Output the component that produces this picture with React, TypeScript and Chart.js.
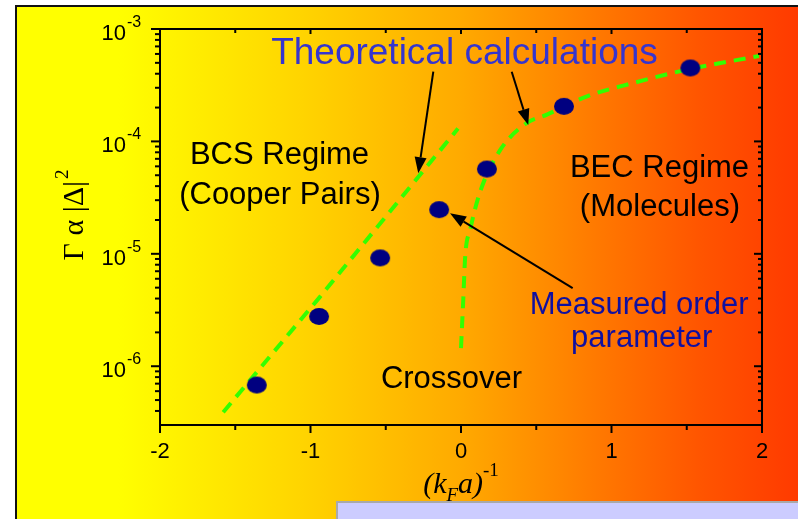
import React, { useEffect, useRef } from 'react';
import { Chart, registerables } from 'chart.js';

Chart.register(...registerables);

// ---- data ----
const bcsX = [-1.58, -0.94, -0.02];
const bcsY = [3.9e-7, 4.1e-6, 1.3e-4];

const becX = [0.0, 0.015, 0.028, 0.061, 0.128, 0.261, 0.438, 0.571, 0.837, 1.145, 1.502, 1.98];
const becY = [1.45e-6, 3.9e-6, 9.5e-6, 1.64e-5, 3.59e-5, 8.4e-5, 1.46e-4, 1.73e-4, 2.52e-4, 3.31e-4, 4.35e-4, 5.75e-4];

const measuredX = [-1.357, -0.943, -0.537, -0.145, 0.172, 0.684, 1.524];
const measuredY = [6.8e-7, 2.77e-6, 9.2e-6, 2.47e-5, 5.68e-5, 2.05e-4, 4.5e-4];

const xTickValues = [-2, -1, 0, 1, 2];
const xTickLabels = ['-2', '-1', '0', '1', '2'];
const xMinorValues = [-1.5, -0.5, 0.5, 1.5];
const yTickExponents = [-6, -5, -4, -3];

const X_MIN = -2;
const X_MAX = 2;
const Y_MIN = 3e-7;
const Y_MAX = 1e-3;

// annotation texts (anchor in data coordinates: x value, log10 y value)
const textNotes = [
  { text: 'Theoretical calculations', x: 0.023, ly: -3.314, color: '#3535cf', size: 37 },
  { text: 'BCS Regime', x: -1.206, ly: -4.205, color: '#000000', size: 31 },
  { text: '(Cooper Pairs)', x: -1.203, ly: -4.56, color: '#000000', size: 31 },
  { text: 'BEC Regime', x: 1.319, ly: -4.316, color: '#000000', size: 31 },
  { text: '(Molecules)', x: 1.322, ly: -4.665, color: '#000000', size: 31 },
  { text: 'Measured order', x: 1.183, ly: -5.538, color: '#1010a0', size: 31 },
  { text: 'parameter', x: 1.201, ly: -5.833, color: '#1010a0', size: 31 },
  { text: 'Crossover', x: -0.063, ly: -6.196, color: '#000000', size: 31 },
];

const arrowNotes = [
  { fx: -0.184, fly: -3.38, tx: -0.284, tly: -4.283 },
  { fx: 0.337, fly: -3.38, tx: 0.447, tly: -3.854 },
  { fx: 0.742, fly: -5.306, tx: -0.073, tly: -4.639 },
];

const SANS = '"Liberation Sans", Arial, sans-serif';
const SERIF = '"Liberation Serif", "Times New Roman", serif';

function makeDot(): HTMLCanvasElement {
  const c = document.createElement('canvas');
  c.width = 22;
  c.height = 19;
  const g = c.getContext('2d')!;
  g.fillStyle = '#000080';
  g.beginPath();
  g.ellipse(11, 9.5, 10, 8.5, 0, 0, Math.PI * 2);
  g.fill();
  return c;
}

function drawArrow(ctx: CanvasRenderingContext2D, x1: number, y1: number, x2: number, y2: number) {
  const ang = Math.atan2(y2 - y1, x2 - x1);
  const len = 16;
  const hw = 6;
  const bx = x2 - len * Math.cos(ang);
  const by = y2 - len * Math.sin(ang);
  ctx.beginPath();
  ctx.moveTo(x1, y1);
  ctx.lineTo(bx, by);
  ctx.stroke();
  ctx.beginPath();
  ctx.moveTo(x2, y2);
  ctx.lineTo(bx + hw * Math.sin(ang), by - hw * Math.cos(ang));
  ctx.lineTo(bx - hw * Math.sin(ang), by + hw * Math.cos(ang));
  ctx.closePath();
  ctx.fill();
}

const decor = {
  id: 'decor',
  beforeDraw(chart: any) {
    const { ctx, width, height } = chart;
    ctx.save();
    ctx.fillStyle = '#ffffff';
    ctx.fillRect(0, 0, width, height);
    const g = ctx.createLinearGradient(16, 0, width, 0);
    g.addColorStop(0, '#ffff00');
    g.addColorStop(0.13, '#ffff00');
    g.addColorStop(0.363, '#ffd500');
    g.addColorStop(0.568, '#ffaa00');
    g.addColorStop(0.747, '#ff7800');
    g.addColorStop(0.875, '#ff5500');
    g.addColorStop(1, '#ff3a00');
    ctx.fillStyle = g;
    ctx.fillRect(16, 5, width - 16, height - 5);
    ctx.fillStyle = '#111111';
    ctx.fillRect(15, 5, width - 15, 2);
    ctx.fillRect(15, 5, 2, height - 5);
    ctx.restore();
  },
  afterDatasetsDraw(chart: any) {
    const { ctx, chartArea } = chart;
    const xs = chart.scales.x;
    const ys = chart.scales.y;
    const { left: l, right: r, top: t, bottom: b } = chartArea;
    const px = (v: number) => xs.getPixelForValue(v);
    const py = (lv: number) => ys.getPixelForValue(Math.pow(10, lv));

    ctx.save();
    ctx.strokeStyle = '#000';
    ctx.fillStyle = '#000';
    ctx.lineWidth = 2;
    ctx.lineCap = 'butt';

    // box
    ctx.strokeRect(l, t, r - l, b - t);

    const seg = (x1: number, y1: number, x2: number, y2: number) => {
      ctx.beginPath();
      ctx.moveTo(x1, y1);
      ctx.lineTo(x2, y2);
      ctx.stroke();
    };

    // x ticks
    xTickValues.forEach((v) => {
      const p = px(v);
      seg(p, b, p, b + 8);
      seg(p, t, p, t + 5);
    });
    xMinorValues.forEach((v) => {
      const p = px(v);
      seg(p, b, p, b + 5);
      seg(p, t, p, t + 4);
    });

    // y ticks
    yTickExponents.forEach((e) => {
      const p = py(e);
      seg(l - 9, p, l, p);
      seg(r - 8, p, r, p);
    });
    for (let e = -7; e <= -4; e++) {
      for (let m = 2; m <= 9; m++) {
        const v = m * Math.pow(10, e);
        if (v <= Y_MIN || v >= Y_MAX) continue;
        const p = ys.getPixelForValue(v);
        seg(l - 5, p, l, p);
        seg(r - 4, p, r, p);
      }
    }

    // x tick labels
    ctx.font = `22px ${SANS}`;
    ctx.textAlign = 'center';
    ctx.textBaseline = 'alphabetic';
    xTickValues.forEach((v, i) => {
      ctx.fillText(xTickLabels[i], px(v), b + 33);
    });

    // y tick labels 10^e
    yTickExponents.forEach((e) => {
      const p = py(e);
      ctx.font = `22px ${SANS}`;
      ctx.textAlign = 'right';
      ctx.fillText('10', l - 34, p + 11);
      ctx.font = `16px ${SANS}`;
      ctx.textAlign = 'left';
      ctx.fillText(String(e), l - 33, p - 2);
    });

    // y title (rotated)
    ctx.save();
    ctx.translate(l - 77, (t + b) / 2 - 12);
    ctx.rotate(-Math.PI / 2);
    ctx.font = `30px ${SERIF}`;
    const main = 'Γ α |Δ|';
    const wMain = ctx.measureText(main).width;
    ctx.font = `19px ${SERIF}`;
    const wSup = ctx.measureText('2').width;
    const start = -(wMain + wSup + 2) / 2;
    ctx.font = `30px ${SERIF}`;
    ctx.textAlign = 'left';
    ctx.fillText(main, start, 0);
    ctx.font = `19px ${SERIF}`;
    ctx.fillText('2', start + wMain + 2, -15);
    ctx.restore();

    // x title (k_F a)^-1
    {
      const big = `italic 30px ${SERIF}`;
      const small = `italic 19px ${SERIF}`;
      const supF = `19px ${SERIF}`;
      const parts = [
        { s: '(k', f: big, dy: 0 },
        { s: 'F', f: small, dy: 8 },
        { s: 'a)', f: big, dy: 0 },
        { s: '-1', f: supF, dy: -17 },
      ];
      let total = 0;
      const widths = parts.map((pt) => {
        ctx.font = pt.f;
        const w = ctx.measureText(pt.s).width;
        total += w;
        return w;
      });
      let cx = px(0) - total / 2;
      ctx.textAlign = 'left';
      parts.forEach((pt, i) => {
        ctx.font = pt.f;
        ctx.fillText(pt.s, cx, b + 68 + pt.dy);
        cx += widths[i];
      });
    }

    // annotation texts
    ctx.textAlign = 'center';
    textNotes.forEach((n) => {
      ctx.font = `${n.size}px ${SANS}`;
      ctx.fillStyle = n.color;
      ctx.fillText(n.text, px(n.x), py(n.ly));
    });

    // arrows
    ctx.fillStyle = '#000';
    ctx.strokeStyle = '#000';
    ctx.lineWidth = 2;
    arrowNotes.forEach((a) => {
      drawArrow(ctx, px(a.fx), py(a.fly), px(a.tx), py(a.tly));
    });

    ctx.restore();
  },
  afterDraw(chart: any) {
    const { ctx, width, height } = chart;
    ctx.save();
    ctx.fillStyle = '#a9a9a9';
    ctx.fillRect(336, 501, width - 336, height - 501);
    ctx.fillStyle = '#ccccff';
    ctx.fillRect(338, 503, width - 338, height - 503);
    ctx.restore();
  },
};

export default function App() {
  const ref = useRef<HTMLCanvasElement>(null);

  useEffect(() => {
    const prev = document.body.style.margin;
    document.body.style.margin = '0';
    if (!ref.current) return;
    const dot = makeDot();
    const chart = new Chart(ref.current, {
      type: 'scatter',
      data: {
        datasets: [
          {
            label: 'Measured',
            data: measuredX.map((x, i) => ({ x, y: measuredY[i] })),
            showLine: false,
            pointStyle: dot,
            pointRadius: 10,
            backgroundColor: '#000080',
            borderColor: '#000080',
            order: 0,
          },
          {
            label: 'BCS theory',
            data: bcsX.map((x, i) => ({ x, y: bcsY[i] })),
            showLine: true,
            borderColor: '#33ff00',
            borderWidth: 4,
            borderDash: [12, 8],
            pointRadius: 0,
            tension: 0,
            order: 1,
          },
          {
            label: 'BEC theory',
            data: becX.map((x, i) => ({ x, y: becY[i] })),
            showLine: true,
            borderColor: '#33ff00',
            borderWidth: 4,
            borderDash: [12, 8],
            pointRadius: 0,
            cubicInterpolationMode: 'monotone',
            order: 2,
          },
        ],
      },
      options: {
        animation: false,
        responsive: false,
        events: [],
        layout: { padding: { left: 160, right: 36, top: 29, bottom: 94 } },
        plugins: { legend: { display: false }, tooltip: { enabled: false } },
        scales: {
          x: { type: 'linear', min: X_MIN, max: X_MAX, display: false },
          y: { type: 'logarithmic', min: Y_MIN, max: Y_MAX, display: false },
        },
      } as any,
      plugins: [decor as any],
    });
    return () => {
      chart.destroy();
      document.body.style.margin = prev;
    };
  }, []);

  return (
    <div style={{ position: 'relative', width: 798, height: 519 }}>
      <canvas ref={ref} width={798} height={519} style={{ display: 'block', width: 798, height: 519 }} />
    </div>
  );
}
